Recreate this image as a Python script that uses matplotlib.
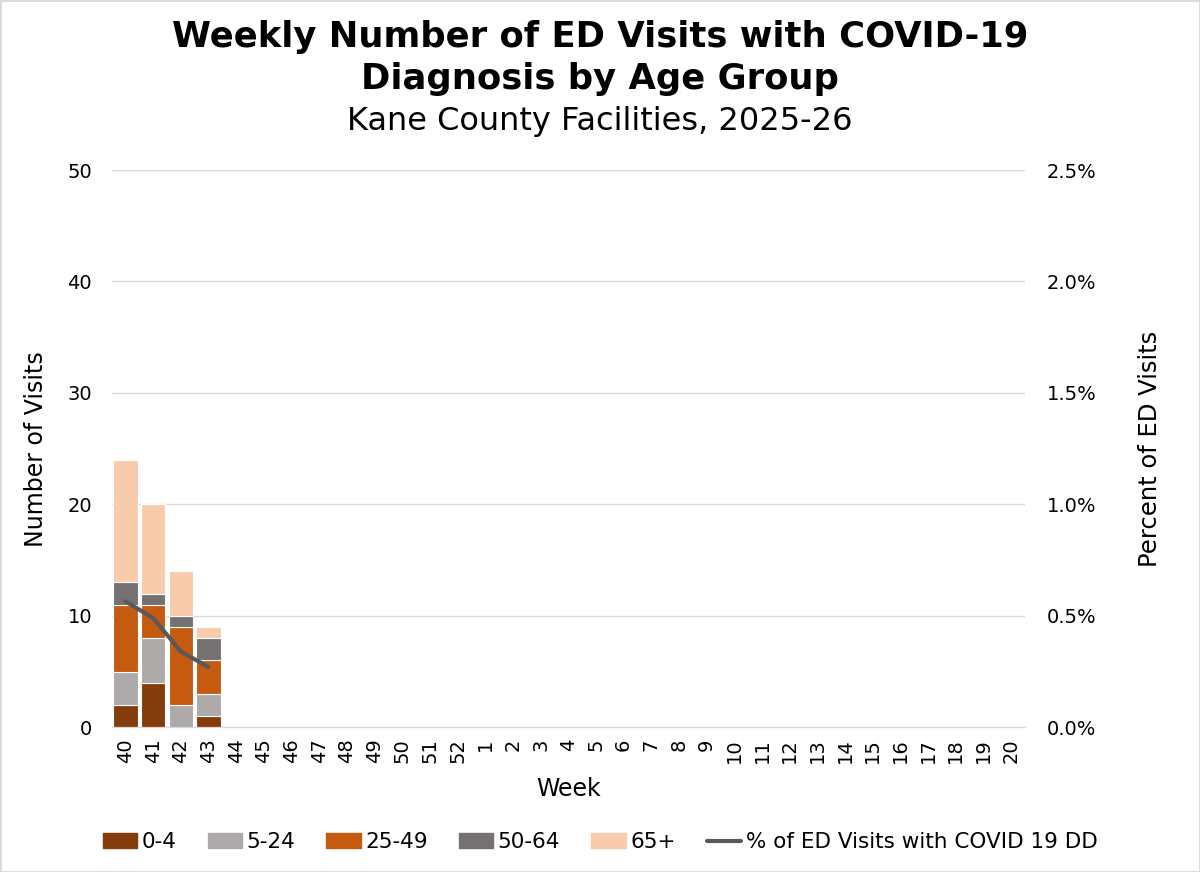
import numpy as np
import matplotlib.pyplot as plt
import matplotlib.patches as mpatches

weeks = [str(w) for w in range(40, 53)] + [str(w) for w in range(1, 21)]

# counts per age group, weeks 40-43 have data
age_0_4 = [2, 4, 0, 1]
age_5_24 = [3, 4, 2, 2]
age_25_49 = [6, 3, 7, 3]
age_50_64 = [2, 1, 1, 2]
age_65 = [11, 8, 4, 1]
pct_covid = [0.565, 0.49, 0.34, 0.27]  # percent of ED visits

groups = [('0-4', age_0_4, '#843C0C'),
          ('5-24', age_5_24, '#AEAAAA'),
          ('25-49', age_25_49, '#C55A11'),
          ('50-64', age_50_64, '#767171'),
          ('65+', age_65, '#F8CBAD')]

plt.rcParams['font.family'] = ['DejaVu Sans']

fig = plt.figure(figsize=(12, 8.72), dpi=100)
ax = fig.add_axes([0.093, 0.166, 0.761, 0.639])
ax2 = ax.twinx()

x = np.arange(len(weeks))
xd = x[:len(age_0_4)]
bottom = np.zeros(len(age_0_4))
handles = []
for name, vals, col in groups:
    ax.bar(xd, vals, bottom=bottom, width=0.88, color=col, edgecolor='white', linewidth=0.8, zorder=3)
    bottom += np.array(vals)
    handles.append(mpatches.Patch(color=col, label=name))

ln, = ax2.plot(xd, pct_covid, color='#595959', linewidth=3, zorder=4,
               label='% of ED Visits with COVID 19 DD', solid_capstyle='round')
handles.append(ln)

ax.set_xlim(-0.5, len(weeks) - 0.5)
ax.set_ylim(0, 50)
ax.set_yticks(range(0, 51, 10))
ax2.set_ylim(0, 2.5)
ax2.set_yticks(np.arange(0, 2.51, 0.5))
ax2.set_yticklabels([f'{v:.1f}%' for v in np.arange(0, 2.51, 0.5)])
ax.set_xticks(x)
ax.set_xticklabels(weeks, rotation=90)

ax.grid(axis='y', color='#D9D9D9', linewidth=1, zorder=0)
ax.set_axisbelow(True)
for a in (ax, ax2):
    for s in ['top', 'left', 'right']:
        a.spines[s].set_visible(False)
    a.spines['bottom'].set_color('#D9D9D9')
    a.tick_params(length=0, labelsize=14, colors='#000000')
ax.tick_params(axis='y', pad=14)
ax2.tick_params(axis='y', pad=16)
ax.tick_params(axis='x', pad=8)

ax.set_xlabel('Week', fontsize=17, labelpad=10)
ax.set_ylabel('Number of Visits', fontsize=17, labelpad=14)
ax2.set_ylabel('Percent of ED Visits', fontsize=17.5, labelpad=30)

fig.text(0.5, 0.958, 'Weekly Number of ED Visits with COVID-19', ha='center', va='center',
         fontsize=25.5, fontweight='heavy')
fig.text(0.5, 0.909, 'Diagnosis by Age Group', ha='center', va='center',
         fontsize=25.5, fontweight='heavy')
fig.text(0.5, 0.861, 'Kane County Facilities, 2025-26', ha='center', va='center', fontsize=23)

fig.legend(handles=handles, loc='center', bbox_to_anchor=(0.5, 0.034), ncol=6, frameon=False,
           fontsize=15.5, handlelength=1.6, handleheight=0.7, columnspacing=1.45, handletextpad=0.2)

fig.patches.append(mpatches.Rectangle((0, 0), 1, 1, transform=fig.transFigure, fill=False,
                                      edgecolor='#D9D9D9', linewidth=2))

fig.savefig('out.png', dpi=100)
